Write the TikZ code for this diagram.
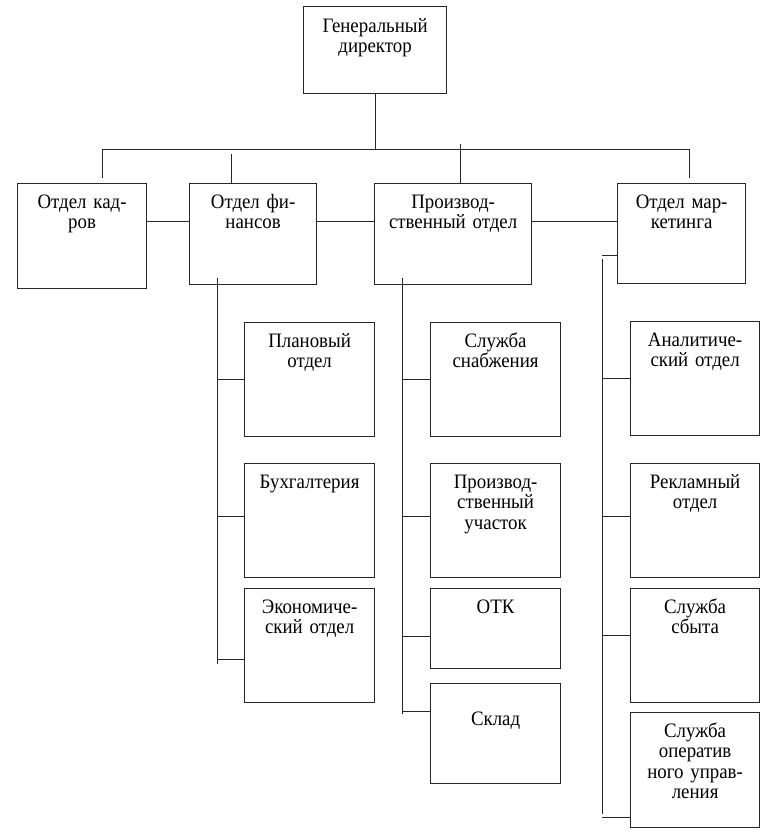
\documentclass[tikz,border=0pt]{standalone}
\usepackage{fontspec}
\setmainfont{Liberation Serif}[FakeStretch=0.92]

\begin{document}
\begin{tikzpicture}[x=1pt, y=-1pt,
  unit/.style={draw=black!85, line width=1.2pt, anchor=north west, inner sep=0pt},
  utext/.style={anchor=base, yshift=-25pt, inner sep=0pt, text width=150pt, align=center,
    font=\fontsize{20.5}{20.5}\selectfont},
  link/.style={draw=black!85, line width=1pt}]

\useasboundingbox (0,0) rectangle (768,835);

% Генеральный директор
\node[unit, minimum width=143pt, minimum height=87pt,
  label={[utext, yshift=-1pt]north:Генеральный\\директор}] (dir) at (303,6) {};

% отделы первого уровня
\node[unit, minimum width=129pt, minimum height=105pt,
  label={[utext]north:Отдел кад-\\ров}] (kadry) at (17,183) {};
\node[unit, minimum width=127pt, minimum height=101pt,
  label={[utext]north:Отдел фи-\\нансов}] (fin) at (189,183) {};
\node[unit, minimum width=157pt, minimum height=101pt,
  label={[utext]north:Производ-\\ственный отдел}] (prod) at (374,183) {};
\node[unit, minimum width=128pt, minimum height=100pt,
  label={[utext]north:Отдел мар-\\кетинга}] (mark) at (617,183) {};

% подразделения отдела финансов
\node[unit, minimum width=130pt, minimum height=114pt,
  label={[utext]north:Плановый\\отдел}] (plan) at (244,322) {};
\node[unit, minimum width=130pt, minimum height=114pt,
  label={[utext]north:Бухгалтерия}] (buh) at (244,463) {};
\node[unit, minimum width=130pt, minimum height=114pt,
  label={[utext]north:Экономиче-\\ский отдел}] (econ) at (244,588) {};

% подразделения производственного отдела
\node[unit, minimum width=130pt, minimum height=114pt,
  label={[utext]north:Служба\\снабжения}] (snab) at (430,322) {};
\node[unit, minimum width=130pt, minimum height=114pt,
  label={[utext]north:Производ-\\ственный\\участок}] (uch) at (430,463) {};
\node[unit, minimum width=130pt, minimum height=80pt,
  label={[utext]north:ОТК}] (otk) at (430,588) {};
\node[unit, minimum width=130pt, minimum height=100pt,
  label={[utext, yshift=-17pt]north:Склад}] (sklad) at (430,683) {};

% подразделения отдела маркетинга
\node[unit, minimum width=129pt, minimum height=114pt,
  label={[utext]north:Аналитиче-\\ский отдел}] (anal) at (630,321) {};
\node[unit, minimum width=129pt, minimum height=114pt,
  label={[utext]north:Рекламный\\отдел}] (rek) at (630,463) {};
\node[unit, minimum width=129pt, minimum height=114pt,
  label={[utext]north:Служба\\сбыта}] (sbyt) at (630,588) {};
\node[unit, minimum width=129pt, minimum height=115pt,
  label={[utext]north:Служба\\оператив\\ного управ-\\ления}] (oper) at (630,712) {};

% шина от директора
\coordinate (busL) at (102,149);
\coordinate (busR) at (689,149);
\draw[link] (dir.south) -- (dir.south |- busL);
\draw[link] (busL) -- (busR);
\draw[link] (busL) -- ([yshift=5pt]busL |- kadry.north);
\draw[link] (busR) -- ([yshift=5pt]busR |- mark.north);
\coordinate (finT) at (231,154);
\draw[link] (finT) -- (finT |- fin.north);
\coordinate (prodT) at (460,144);
\draw[link] (prodT) -- (prodT |- prod.north);

% связи между отделами
\coordinate (row) at (0,221);
\draw[link] (kadry.east |- row) -- (fin.west |- row);
\draw[link] (fin.east |- row) -- (prod.west |- row);
\draw[link] (prod.east |- row) -- (mark.west |- row);

% отдел финансов
\coordinate (finS) at (217,278);
\coordinate (finE) at (217,664);
\draw[link] (finS) -- (finE);
\draw[link] (plan.west) -- (plan.west -| finS);
\draw[link] ([yshift=4pt]buh.west) -- ([yshift=4pt]buh.west -| finS);
\draw[link] ([yshift=-14pt]econ.west) -- ([yshift=-14pt]econ.west -| finS);

% производственный отдел
\coordinate (prodS) at (402,278);
\coordinate (prodE) at (402,714);
\draw[link] (prodS) -- (prodE);
\draw[link] (snab.west) -- (snab.west -| prodS);
\draw[link] ([yshift=4pt]uch.west) -- ([yshift=4pt]uch.west -| prodS);
\draw[link] ([yshift=-8pt]otk.west) -- ([yshift=-8pt]otk.west -| prodS);
\draw[link] ([yshift=22pt]sklad.west) -- ([yshift=22pt]sklad.west -| prodS);

% отдел маркетинга
\coordinate (markS) at (602,259);
\coordinate (markE) at (602,814);
\draw[link] ([yshift=-22pt]mark.west) -- ([yshift=-22pt]mark.west -| markS);
\draw[link] (markS) -- (markE);
\draw[link] (anal.west) -- (anal.west -| markS);
\draw[link] ([yshift=4pt]rek.west) -- ([yshift=4pt]rek.west -| markS);
\draw[link] ([yshift=10pt]sbyt.west) -- ([yshift=10pt]sbyt.west -| markS);
\draw[link] ([yshift=-47pt]oper.west) -- ([yshift=-47pt]oper.west -| markS);

\end{tikzpicture}
\end{document}
